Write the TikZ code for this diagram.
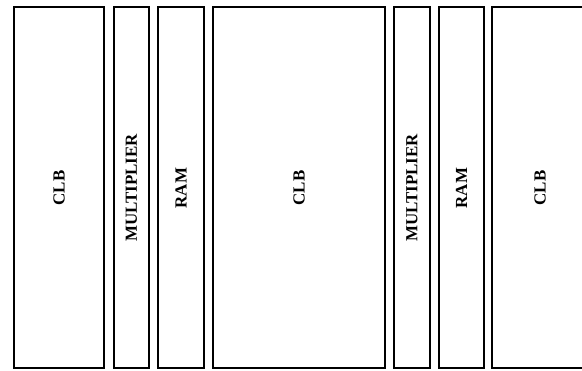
\documentclass[tikz,border=0pt]{standalone}
\usepackage{fontspec}
\setmainfont{Liberation Serif}
\begin{document}
\begin{tikzpicture}[x=1bp,y=-1bp,
  blockbox/.style={draw=black, line width=2bp, fill=white},
  blocklabel/.style={font=\fontsize{17}{17}\selectfont\bfseries, rotate=90, inner sep=0pt}]
\useasboundingbox (0,0) rectangle (582,370);
\draw[blockbox] (14,7) rectangle (104,368);
\draw[blockbox] (113.7,7) rectangle (149,368);
\draw[blockbox] (158.3,7) rectangle (204,368);
\draw[blockbox] (213,7) rectangle (385,368);
\draw[blockbox] (394.3,7) rectangle (430,368);
\draw[blockbox] (439,7) rectangle (484,368);
\draw[blockbox] (492,7) rectangle (600,368);
\node[blocklabel] (clbA) at (59,188) {CLB};
\node[blocklabel] (mulA) at (131.5,188) {MULTIPLIER};
\node[blocklabel] (ramA) at (181,188) {RAM};
\node[blocklabel] (clbB) at (299,188) {CLB};
\node[blocklabel] (mulB) at (412,188) {MULTIPLIER};
\node[blocklabel] (ramB) at (461.5,188) {RAM};
\node[blocklabel] (clbC) at (540,188) {CLB};
\end{tikzpicture}
\end{document}
